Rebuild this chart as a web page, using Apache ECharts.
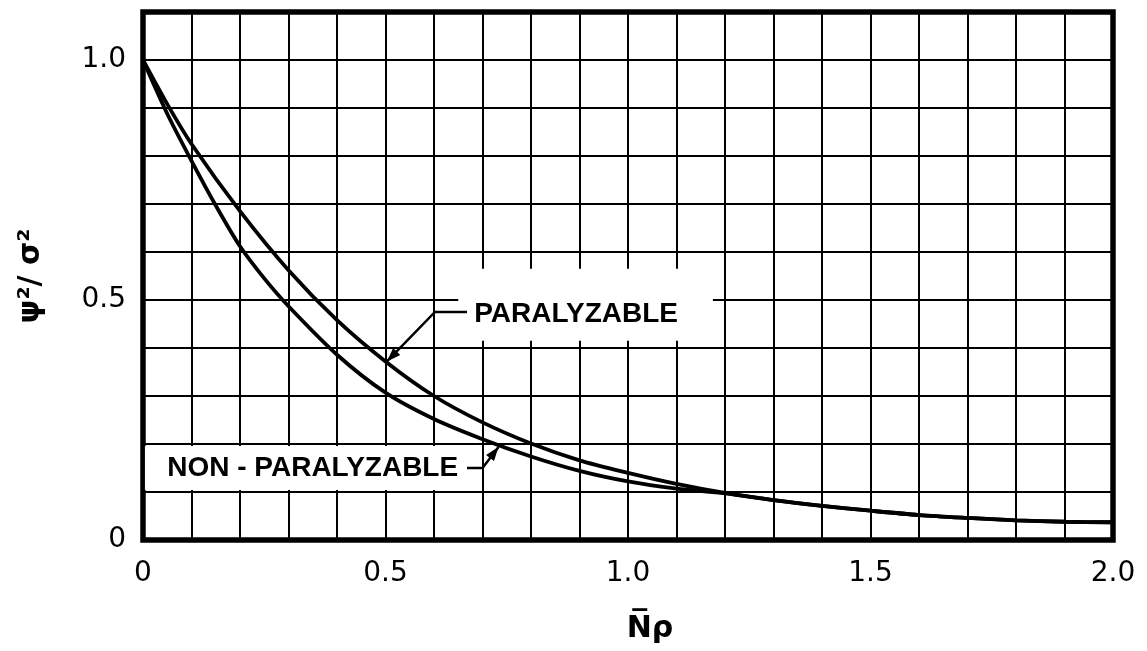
<!DOCTYPE html>
<html>
<head>
<meta charset="utf-8">
<script src="https://cdn.jsdelivr.net/npm/echarts@6/dist/echarts.min.js"></script>
<style>
html,body{margin:0;padding:0;background:#fff;}
#chart{width:1147px;height:651px;}
</style>
</head>
<body>
<div id="chart"></div>
<script>
// ---- data ----
const xTickLabels = ['0', '0.5', '1.0', '1.5', '2.0'];
const yTickLabels = ['0', '0.5', '1.0'];

const xParalyzable = [0, 0.05, 0.1, 0.2, 0.3, 0.4, 0.5, 0.6, 0.7, 0.8, 0.9, 1.0, 1.1, 1.2, 1.3, 1.4, 1.5, 1.6, 1.7, 1.8, 1.9, 2.0];
const yParalyzable = [1.0, 0.908, 0.825, 0.685, 0.562, 0.458, 0.372, 0.300, 0.245, 0.201, 0.166, 0.140, 0.117, 0.098, 0.083, 0.071, 0.061, 0.052, 0.046, 0.041, 0.038, 0.037];

const xNonParalyzable = [0, 0.05, 0.1, 0.15, 0.2, 0.25, 0.3, 0.4, 0.5, 0.6, 0.7, 0.8, 0.9, 1.0, 1.1, 1.2, 1.3, 1.4, 1.5, 1.6, 1.7, 1.8, 1.9, 2.0];
const yNonParalyzable = [1.0, 0.888, 0.790, 0.697, 0.612, 0.545, 0.487, 0.386, 0.307, 0.252, 0.210, 0.174, 0.144, 0.122, 0.107, 0.097, 0.083, 0.071, 0.061, 0.052, 0.046, 0.041, 0.038, 0.037];

const seriesNames = ['PARALYZABLE', 'NON-PARALYZABLE'];
const xAxisTitle = 'N\u0305\u03C1';
const yAxisTitle = '\u03C8\u00B2/ \u03C3\u00B2';

// annotation anchors (data coordinates)
const parLabelAt = [0.683, 0.47];     // left-middle of PARALYZABLE text
const parLeader = [[0.668, 0.475], [0.602, 0.475], [0.503, 0.372]];
const parBox = [[0.650, 0.565], [1.175, 0.415]];
const nonLabelAt = [0.05, 0.15];      // left-middle of NON-PARALYZABLE text
const nonLeader = [[0.668, 0.150], [0.700, 0.150], [0.733, 0.194]];
const nonBox = [[0.004, 0.196], [0.690, 0.104]];

function zip(xs, ys) { return xs.map((x, i) => [x, ys[i]]); }

const chart = echarts.init(document.getElementById('chart'));
const numFont = 'DejaVu Sans';
const option = {
  animation: false,
  backgroundColor: '#fff',
  grid: { left: 143, right: 34, top: 12, bottom: 111, show: true, borderWidth: 5.5, borderColor: '#000', z: 3 },
  xAxis: {
    type: 'value', min: 0, max: 2.0, interval: 0.1,
    name: xAxisTitle, nameLocation: 'middle', nameGap: 74,
    nameTextStyle: { fontFamily: numFont, fontSize: 30, fontWeight: 'bold', color: '#000', padding: [0, 0, 0, 44] },
    axisLine: { show: false }, axisTick: { show: false },
    splitLine: { show: true, lineStyle: { color: '#000', width: 2 } },
    axisLabel: {
      margin: 20, fontFamily: numFont, fontSize: 28, color: '#000',
      formatter: function (v) {
        const r = Math.round(v * 10);
        if (r % 5 !== 0) return '';
        return xTickLabels[r / 5];
      }
    }
  },
  yAxis: {
    type: 'value', min: 0, max: 1.1, interval: 0.1,
    name: yAxisTitle, nameLocation: 'middle', nameGap: 97, nameRotate: 90,
    nameTextStyle: { fontFamily: numFont, fontSize: 30, fontWeight: 'bold', color: '#000' },
    axisLine: { show: false }, axisTick: { show: false },
    splitLine: { show: true, lineStyle: { color: '#000', width: 2 } },
    axisLabel: {
      margin: 17, fontFamily: numFont, fontSize: 28, color: '#000',
      formatter: function (v) {
        const r = Math.round(v * 10);
        if (r % 5 !== 0 || r > 10) return '';
        return yTickLabels[r / 5];
      }
    }
  },
  series: [
    {
      name: seriesNames[0], type: 'line', data: zip(xParalyzable, yParalyzable),
      smooth: 0.3, showSymbol: false, symbol: 'none',
      lineStyle: { color: '#000', width: 3.8 }, z: 5
    },
    {
      name: seriesNames[1], type: 'line', data: zip(xNonParalyzable, yNonParalyzable),
      smooth: 0.3, showSymbol: false, symbol: 'none',
      lineStyle: { color: '#000', width: 3.8 }, z: 5
    }
  ]
};
chart.setOption(option);

function px(p) { return chart.convertToPixel({ gridIndex: 0 }, p); }
function boxRect(b) {
  const a = px(b[0]), c = px(b[1]);
  return { x: Math.min(a[0], c[0]), y: Math.min(a[1], c[1]), width: Math.abs(c[0] - a[0]), height: Math.abs(c[1] - a[1]) };
}
function arrowHead(from, to, len, half) {
  const dx = to[0] - from[0], dy = to[1] - from[1];
  const L = Math.sqrt(dx * dx + dy * dy);
  const ux = dx / L, uy = dy / L;
  const bx = to[0] - ux * len, by = to[1] - uy * len;
  return [[to[0], to[1]], [bx - uy * half, by + ux * half], [bx + uy * half, by - ux * half]];
}
function leaderEls(pts) {
  const p = pts.map(px);
  return [
    { type: 'polyline', z: 102, shape: { points: p }, style: { stroke: '#000', lineWidth: 2.5, fill: null } },
    { type: 'polygon', z: 103, shape: { points: arrowHead(p[p.length - 2], p[p.length - 1], 14, 5) }, style: { fill: '#000' } }
  ];
}
const labelFont = 'bold 28px "Liberation Sans", Arial, sans-serif';
const pl = px(parLabelAt), nl = px(nonLabelAt);
chart.setOption({
  graphic: [
    { type: 'rect', z: 100, shape: boxRect(parBox), style: { fill: '#fff' } },
    { type: 'rect', z: 100, shape: boxRect(nonBox), style: { fill: '#fff' } },
    { type: 'text', z: 101, x: pl[0], y: pl[1], style: { text: seriesNames[0], font: labelFont, fill: '#000', textVerticalAlign: 'middle', verticalAlign: 'middle' } },
    { type: 'text', z: 101, x: nl[0], y: nl[1], style: { text: 'NON - PARALYZABLE', font: labelFont, fill: '#000', textVerticalAlign: 'middle', verticalAlign: 'middle' } }
  ].concat(leaderEls(parLeader)).concat(leaderEls(nonLeader))
});
</script>
</body>
</html>
